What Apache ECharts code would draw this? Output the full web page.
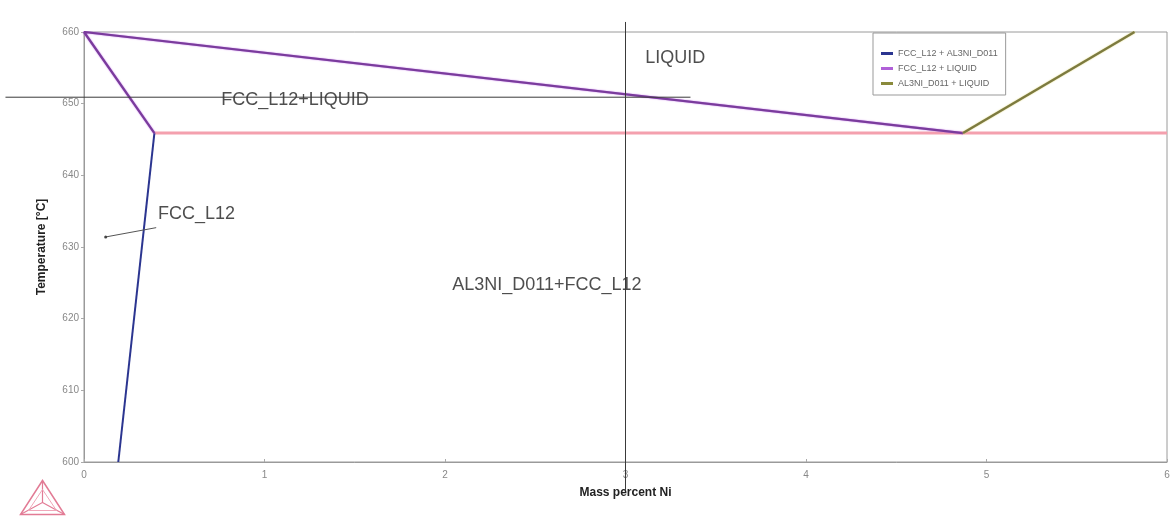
<!DOCTYPE html>
<html>
<head>
<meta charset="utf-8">
<title>Al-Ni phase diagram (Al-rich corner)</title>
<script src="https://cdn.jsdelivr.net/npm/echarts@6/dist/echarts.min.js"></script>
<style>
  html, body { margin: 0; padding: 0; background: #ffffff; }
  #chart { width: 1175px; height: 516px; }
</style>
</head>
<body>
<div id="chart"></div>
<script>
// Phase boundaries, mass percent Ni vs temperature (°C)
const fccAl3niBoundary = [[0.39, 645.9], [0.19, 600.0]];            // FCC_L12 solvus
const fccLiquidBoundary = [[0.39, 645.9], [0.0, 660.0], [4.87, 645.9]]; // solidus + liquidus
const al3niLiquidBoundary = [[4.87, 645.9], [5.82, 660.0]];          // AL3NI liquidus
const eutecticLine = [[0.39, 645.9], [6.0, 645.9]];                   // three-phase isotherm

// Cursor cross-hair lines (they run past the plot frame)
const crossH = [[-0.435, 650.9], [3.36, 650.9]];
const crossV = [[3.0, 661.4], [3.0, 596.1]];

// Phase region labels and their anchor points
const regionNames = ['LIQUID', 'FCC_L12+LIQUID', 'FCC_L12', 'AL3NI_D011+FCC_L12'];
const regionAnchors = [[3.11, 656.4], [0.76, 650.5], [0.41, 634.6], [2.04, 624.7]];
const pointerLine = [[0.12, 631.4], [0.40, 632.7]];

const legendNames = ['FCC_L12 + AL3NI_D011', 'FCC_L12 + LIQUID', 'AL3NI_D011 + LIQUID'];
const xTicks = { min: 0, max: 6, interval: 1 };
const yTicks = { min: 600, max: 660, interval: 10 };

const chart = echarts.init(document.getElementById('chart'));

const fontFamily = '"Liberation Sans", Arial, sans-serif';

chart.setOption({
  animation: false,
  backgroundColor: '#ffffff',
  textStyle: { fontFamily: fontFamily },
  grid: {
    left: 84, right: 8, top: 32, bottom: 54,
    show: true, borderColor: '#9a9a9a', borderWidth: 1
  },
  legend: {
    data: legendNames,
    orient: 'vertical',
    left: 873, top: 33,
    padding: [15, 8, 6, 8],
    itemWidth: 12, itemHeight: 3, itemGap: 4,
    icon: 'rect',
    borderColor: '#999', borderWidth: 1,
    backgroundColor: '#fff',
    textStyle: { fontSize: 9, color: '#666', fontFamily: fontFamily, lineHeight: 11 }
  },
  xAxis: {
    type: 'value',
    min: xTicks.min, max: xTicks.max, interval: xTicks.interval,
    name: 'Mass percent Ni',
    nameLocation: 'middle', nameGap: 25,
    nameTextStyle: { fontSize: 12, fontWeight: 'bold', color: '#222' },
    axisLine: { lineStyle: { color: '#9a9a9a', width: 1 } },
    axisTick: { inside: true, length: 3, lineStyle: { color: '#aaa' } },
    axisLabel: { fontSize: 10, color: '#888', margin: 8 },
    splitLine: { show: false }
  },
  yAxis: {
    type: 'value',
    min: yTicks.min, max: yTicks.max, interval: yTicks.interval,
    name: 'Temperature [°C]',
    nameLocation: 'middle', nameGap: 36,
    nameTextStyle: { fontSize: 12, fontWeight: 'bold', color: '#222' },
    axisLine: { show: true, lineStyle: { color: '#9a9a9a', width: 1 } },
    axisTick: { show: true, length: 3, lineStyle: { color: '#aaa' } },
    axisLabel: { fontSize: 10, color: '#888', margin: 5 },
    splitLine: { show: false }
  },
  series: [
    {
      name: 'eutectic', type: 'line', data: eutecticLine,
      showSymbol: false, silent: true,
      lineStyle: { color: '#f4a0ae', width: 3 }, z: 2
    },
    {
      name: legendNames[0], type: 'line', data: fccAl3niBoundary,
      showSymbol: false, color: '#2b3590',
      lineStyle: { color: '#2b3590', width: 2 }, z: 3
    },
    {
      name: legendNames[1], type: 'line', data: fccLiquidBoundary,
      showSymbol: false, color: '#b060d8',
      lineStyle: { color: '#7a3c9c', width: 2.2, shadowColor: '#c070e8', shadowBlur: 1.5 }, z: 3
    },
    {
      name: legendNames[2], type: 'line', data: al3niLiquidBoundary,
      showSymbol: false, color: '#8a8a3c',
      lineStyle: { color: '#7c7a40', width: 2.2, shadowColor: '#d8d070', shadowBlur: 1.5 }, z: 3
    },
    {
      name: 'pointer', type: 'line', data: pointerLine,
      showSymbol: false, silent: true,
      lineStyle: { color: '#555', width: 1 }, z: 4,
      markPoint: {
        symbol: 'circle', symbolSize: 3,
        itemStyle: { color: '#444' },
        label: { show: false },
        data: [{ coord: pointerLine[0] }]
      }
    },
    {
      name: 'labels', type: 'scatter', silent: true,
      symbolSize: 0,
      data: regionAnchors.map((p, i) => ({ value: p, name: regionNames[i] })),
      label: {
        show: true, position: 'right', distance: 0,
        formatter: (p) => p.name,
        fontSize: 18, color: '#222', fontFamily: fontFamily
      },
      z: 5
    }
  ]
});

// Cross-hair: placed through the axes' own scales, drawn unclipped
function toPx(p) { return chart.convertToPixel({ gridIndex: 0 }, p); }
function crossLine(seg) {
  const a = toPx(seg[0]), b = toPx(seg[1]);
  return {
    type: 'line', z: 10, silent: true,
    shape: { x1: a[0], y1: a[1], x2: b[0], y2: b[1] },
    style: { stroke: '#3a3a3a', lineWidth: 1 }
  };
}

chart.setOption({
  graphic: [
    crossLine(crossH),
    crossLine(crossV),
    {
      type: 'group', left: 18, top: 478,
      children: [
        { type: 'polygon', shape: { points: [[22, 0], [0, 34], [44, 34]] },
          style: { fill: 'none', stroke: '#e27b95', lineWidth: 1.5 } },
        { type: 'polyline', shape: { points: [[22, 0], [22, 22], [0, 34]] },
          style: { fill: 'none', stroke: '#e27b95', lineWidth: 1.2 } },
        { type: 'polyline', shape: { points: [[22, 22], [44, 34]] },
          style: { fill: 'none', stroke: '#e27b95', lineWidth: 1.2 } },
        { type: 'polygon', shape: { points: [[22, 9], [8, 30], [36, 30]] },
          style: { fill: 'none', stroke: '#f0a8ba', lineWidth: 1 } }
      ]
    }
  ]
});
</script>
</body>
</html>
